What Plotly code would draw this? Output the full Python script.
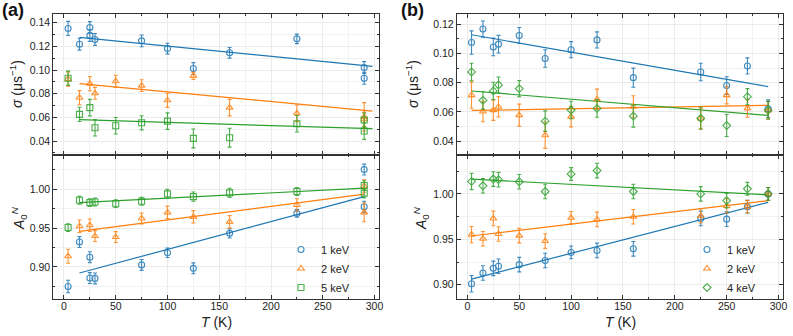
import plotly.graph_objects as go

BLUE = "#1f77b4"
ORANGE = "#ff7f0e"
GREEN = "#2ca02c"
FONT = "Liberation Sans, Arial, sans-serif"

# ---- panel (a) ----
t_a_1kev = [4, 15, 25, 25, 30, 75, 100, 125, 160, 225, 290, 290]
sigma_a_1kev = [0.1352, 0.1219, 0.1360, 0.1293, 0.1259, 0.1247, 0.1182, 0.1013, 0.1146, 0.1264, 0.1022, 0.0931]
sigma_a_1kev_err = [0.006, 0.005, 0.005, 0.005, 0.005, 0.005, 0.0045, 0.005, 0.0045, 0.004, 0.005, 0.005]
asym_a_1kev = [0.8748, 0.9320, 0.9125, 0.8857, 0.8853, 0.9026, 0.9182, 0.8982, 0.9432, 0.9688, 1.0251, 0.9774]
asym_a_1kev_err = [0.008, 0.007, 0.007, 0.007, 0.007, 0.007, 0.006, 0.007, 0.006, 0.005, 0.007, 0.007]

t_a_2kev = [4, 15, 25, 30, 50, 75, 100, 125, 160, 225, 290, 290]
sigma_a_2kev = [0.0925, 0.0767, 0.0886, 0.0804, 0.0906, 0.0869, 0.0745, 0.0951, 0.0683, 0.0635, 0.0605, 0.0585]
sigma_a_2kev_err = [0.006, 0.006, 0.006, 0.005, 0.005, 0.005, 0.006, 0.003, 0.007, 0.007, 0.012, 0.006]
asym_a_2kev = [0.9138, 0.9523, 0.9536, 0.9397, 0.9384, 0.9623, 0.9701, 0.9644, 0.9579, 0.9796, 0.9701, 1.0040]
asym_a_2kev_err = [0.009, 0.008, 0.008, 0.007, 0.007, 0.007, 0.008, 0.008, 0.008, 0.008, 0.012, 0.008]

t_a_5kev = [4, 15, 25, 30, 50, 75, 100, 125, 160, 225, 290, 290]
sigma_a_5kev = [0.0931, 0.0626, 0.0683, 0.0513, 0.0530, 0.0555, 0.0569, 0.0423, 0.0429, 0.0547, 0.0578, 0.0485]
sigma_a_5kev_err = [0.006, 0.006, 0.007, 0.007, 0.007, 0.006, 0.007, 0.008, 0.008, 0.007, 0.006, 0.007]
asym_a_5kev = [0.9506, 0.9857, 0.9826, 0.9835, 0.9813, 0.9844, 0.9939, 0.9904, 0.9952, 0.9969, 1.0047, 0.9948]
asym_a_5kev_err = [0.005, 0.005, 0.005, 0.005, 0.005, 0.005, 0.006, 0.006, 0.006, 0.005, 0.006, 0.006]

# linear fits (end points)
fit_t_a_sigma = [15, 298]
fit_a_sigma_1kev = [0.1276, 0.1031]
fit_a_sigma_2kev = [0.0886, 0.0654]
fit_a_sigma_5kev = [0.0581, 0.0505]
fit_t_a_asym = [15, 290]
fit_a_asym_1kev = [0.8922, 0.9904]
fit_a_asym_2kev = [0.9458, 0.9935]
fit_a_asym_5kev = [0.9826, 1.0013]

# ---- panel (b) ----
t_b = [4, 15, 25, 30, 50, 75, 100, 125, 160, 225, 250, 270, 290]
sigma_b_1kev = [0.1074, 0.1166, 0.1044, 0.1063, 0.1122, 0.0965, 0.1025, 0.1092, 0.0834, 0.0873, 0.0780, 0.0914, 0.0622]
sigma_b_1kev_err = [0.008, 0.0055, 0.006, 0.006, 0.0055, 0.006, 0.0055, 0.0055, 0.0065, 0.006, 0.006, 0.0055, 0.006]
sigma_b_2kev = [0.0715, 0.0603, 0.0612, 0.0635, 0.0578, 0.0441, 0.0568, 0.0686, 0.0635, 0.0555, 0.0715, 0.0624, 0.0610]
sigma_b_2kev_err = [0.009, 0.007, 0.007, 0.007, 0.0075, 0.009, 0.007, 0.007, 0.0075, 0.007, 0.006, 0.006, 0.006]
sigma_b_4kev = [0.0873, 0.0679, 0.0743, 0.0784, 0.0759, 0.0537, 0.0613, 0.0624, 0.0571, 0.0557, 0.0507, 0.0704, 0.0612]
sigma_b_4kev_err = [0.006, 0.006, 0.006, 0.0055, 0.0055, 0.007, 0.006, 0.006, 0.0075, 0.0075, 0.0075, 0.0055, 0.006]
asym_b_1kev = [0.9011, 0.9130, 0.9181, 0.9204, 0.9222, 0.9267, 0.9356, 0.9378, 0.9396, 0.9730, 0.9722, 0.9859, 1.0000]
asym_b_2kev = [0.9552, 0.9507, 0.9730, 0.9559, 0.9541, 0.9481, 0.9737, 0.9719, 0.9748, 0.9759, 0.9867, 0.9859, 1.0000]
asym_b_4kev = [1.0137, 1.0089, 1.0163, 1.0156, 1.0133, 1.0026, 1.0219, 1.0256, 1.0026, 1.0000, 0.9926, 1.0056, 1.0000]
asym_b_err = [0.009, 0.008, 0.008, 0.008, 0.008, 0.008, 0.007, 0.008, 0.008, 0.008, 0.008, 0.007, 0.007]

fit_t_b = [4, 290]
fit_b_sigma_1kev = [0.1127, 0.0773]
fit_b_sigma_2kev = [0.0610, 0.0645]
fit_b_sigma_4kev = [0.0743, 0.0576]
fit_b_asym_1kev = [0.9063, 0.9907]
fit_b_asym_2kev = [0.9537, 0.9926]
fit_b_asym_4kev = [1.0163, 0.9989]

W, H = 793, 336


def px_x(x):
    return x / W


def px_y(y):
    return 1 - y / H


def points(t, y, err, color, symbol, xa, ya, name=None, legend=None):
    return go.Scatter(
        x=t, y=y, mode="markers", name=name,
        showlegend=name is not None, legend=legend,
        xaxis=xa, yaxis=ya,
        marker=dict(symbol=symbol, size=6, color=color, line=dict(color=color, width=1.1)),
        error_y=dict(type="data", array=err, color=color, thickness=1.1, width=2),
        opacity=0.85,
    )


def fit(t, y, color, xa, ya):
    return go.Scatter(x=t, y=y, mode="lines", showlegend=False, xaxis=xa, yaxis=ya,
                      line=dict(color=color, width=1.2), hoverinfo="skip")


fig = go.Figure()
# (a) sigma
fig.add_trace(fit(fit_t_a_sigma, fit_a_sigma_1kev, BLUE, "x", "y"))
fig.add_trace(fit(fit_t_a_sigma, fit_a_sigma_2kev, ORANGE, "x", "y"))
fig.add_trace(fit(fit_t_a_sigma, fit_a_sigma_5kev, GREEN, "x", "y"))
fig.add_trace(points(t_a_1kev, sigma_a_1kev, sigma_a_1kev_err, BLUE, "circle-open", "x", "y"))
fig.add_trace(points(t_a_2kev, sigma_a_2kev, sigma_a_2kev_err, ORANGE, "triangle-up-open", "x", "y"))
fig.add_trace(points(t_a_5kev, sigma_a_5kev, sigma_a_5kev_err, GREEN, "square-open", "x", "y"))
# (a) asymmetry
fig.add_trace(fit(fit_t_a_asym, fit_a_asym_1kev, BLUE, "x2", "y2"))
fig.add_trace(fit(fit_t_a_asym, fit_a_asym_2kev, ORANGE, "x2", "y2"))
fig.add_trace(fit(fit_t_a_asym, fit_a_asym_5kev, GREEN, "x2", "y2"))
fig.add_trace(points(t_a_1kev, asym_a_1kev, asym_a_1kev_err, BLUE, "circle-open", "x2", "y2", "1 keV", "legend"))
fig.add_trace(points(t_a_2kev, asym_a_2kev, asym_a_2kev_err, ORANGE, "triangle-up-open", "x2", "y2", "2 keV", "legend"))
fig.add_trace(points(t_a_5kev, asym_a_5kev, asym_a_5kev_err, GREEN, "square-open", "x2", "y2", "5 keV", "legend"))
# (b) sigma
fig.add_trace(fit(fit_t_b, fit_b_sigma_1kev, BLUE, "x3", "y3"))
fig.add_trace(fit(fit_t_b, fit_b_sigma_2kev, ORANGE, "x3", "y3"))
fig.add_trace(fit(fit_t_b, fit_b_sigma_4kev, GREEN, "x3", "y3"))
fig.add_trace(points(t_b, sigma_b_1kev, sigma_b_1kev_err, BLUE, "circle-open", "x3", "y3"))
fig.add_trace(points(t_b, sigma_b_2kev, sigma_b_2kev_err, ORANGE, "triangle-up-open", "x3", "y3"))
fig.add_trace(points(t_b, sigma_b_4kev, sigma_b_4kev_err, GREEN, "diamond-open", "x3", "y3"))
# (b) asymmetry
fig.add_trace(fit(fit_t_b, fit_b_asym_1kev, BLUE, "x4", "y4"))
fig.add_trace(fit(fit_t_b, fit_b_asym_2kev, ORANGE, "x4", "y4"))
fig.add_trace(fit(fit_t_b, fit_b_asym_4kev, GREEN, "x4", "y4"))
fig.add_trace(points(t_b, asym_b_1kev, asym_b_err, BLUE, "circle-open", "x4", "y4", "1 keV", "legend2"))
fig.add_trace(points(t_b, asym_b_2kev, asym_b_err, ORANGE, "triangle-up-open", "x4", "y4", "2 keV", "legend2"))
fig.add_trace(points(t_b, asym_b_4kev, asym_b_err, GREEN, "diamond-open", "x4", "y4", "4 keV", "legend2"))

axis_style = dict(
    showline=True, linecolor="#333", linewidth=1, mirror="allticks",
    ticks="inside", ticklen=4, tickcolor="#333", tickwidth=1,
    showgrid=True, gridcolor="#ebebeb", gridwidth=1, zeroline=False,
    minor=dict(ticks="inside", ticklen=2, tickcolor="#333", showgrid=True, gridcolor="#f2f2f2"),
    tickfont=dict(size=10.5, color="#222", family=FONT),
    automargin=False,
)

left = [px_x(53.3), px_x(379)]
right = [px_x(456.7), px_x(783)]
top = [px_y(154.5), px_y(14)]
bottom = [px_y(299), px_y(154.5)]
x_range = [-10.3, 304.3]

sigma_title = "<i>σ</i> (μs<sup>−1</sup>)"
asym_title = "<i>A</i><sub>0</sub><sup><i>N</i></sup>"
t_title = "<i>T</i> (K)"


def label(text, x, y, angle=0, size=14, color="#222"):
    return dict(text=text, x=px_x(x), y=px_y(y), xref="paper", yref="paper",
                xanchor="center", yanchor="middle", showarrow=False, textangle=angle,
                font=dict(size=size, family=FONT, color=color))


legend_style = dict(yanchor="top", xanchor="left", bgcolor="rgba(0,0,0,0)",
                    font=dict(size=11, family=FONT, color="#222"), tracegroupgap=0, itemwidth=30)

fig.update_layout(
    width=W, height=H, margin=dict(l=0, r=0, t=0, b=0),
    plot_bgcolor="white", paper_bgcolor="white",
    font=dict(family=FONT, color="#222"),
    xaxis=dict(axis_style, domain=left, range=x_range, dtick=50, minor_dtick=25,
               showticklabels=False, anchor="y", matches="x2"),
    yaxis=dict(axis_style, domain=top, range=[0.0287, 0.1474], dtick=0.02, minor_dtick=0.01,
               tickformat=".2f", anchor="x"),
    xaxis2=dict(axis_style, domain=left, range=x_range, dtick=50, minor_dtick=25, anchor="y2",
                ticklabelstandoff=-3),
    yaxis2=dict(axis_style, domain=bottom, range=[0.8588, 1.0445], dtick=0.05, minor_dtick=0.025,
                tickformat=".2f", anchor="x2"),
    xaxis3=dict(axis_style, domain=right, range=x_range, dtick=50, minor_dtick=25,
                showticklabels=False, anchor="y3", matches="x4"),
    yaxis3=dict(axis_style, domain=top, range=[0.0309, 0.1269], dtick=0.02, minor_dtick=0.01,
                tickformat=".2f", anchor="x3"),
    xaxis4=dict(axis_style, domain=right, range=x_range, dtick=50, minor_dtick=25, anchor="y4",
                ticklabelstandoff=-3),
    yaxis4=dict(axis_style, domain=bottom, range=[0.8844, 1.0433], dtick=0.05, minor_dtick=0.025,
                tickformat=".2f", anchor="x4"),
    legend=dict(legend_style, x=px_x(281), y=px_y(235)),
    legend2=dict(legend_style, x=px_x(687), y=px_y(235)),
    annotations=[
        label("<b>(a)</b>", 13, 10, size=18, color="#111"),
        label("<b>(b)</b>", 412, 10, size=18, color="#111"),
        label(sigma_title, 16, 84, angle=-90),
        label(sigma_title, 412, 84, angle=-90),
        label(asym_title, 19, 218, angle=-90),
        label(asym_title, 421, 218, angle=-90),
        label(t_title, 216, 322),
        label(t_title, 620, 322),
    ],
)

# drop the default 8px body margin so the figure sits at the window's top-left corner
fig.write_html(
    "out.html",
    config={"displayModeBar": False},
    post_script="document.body.style.margin = '0px';",
)
